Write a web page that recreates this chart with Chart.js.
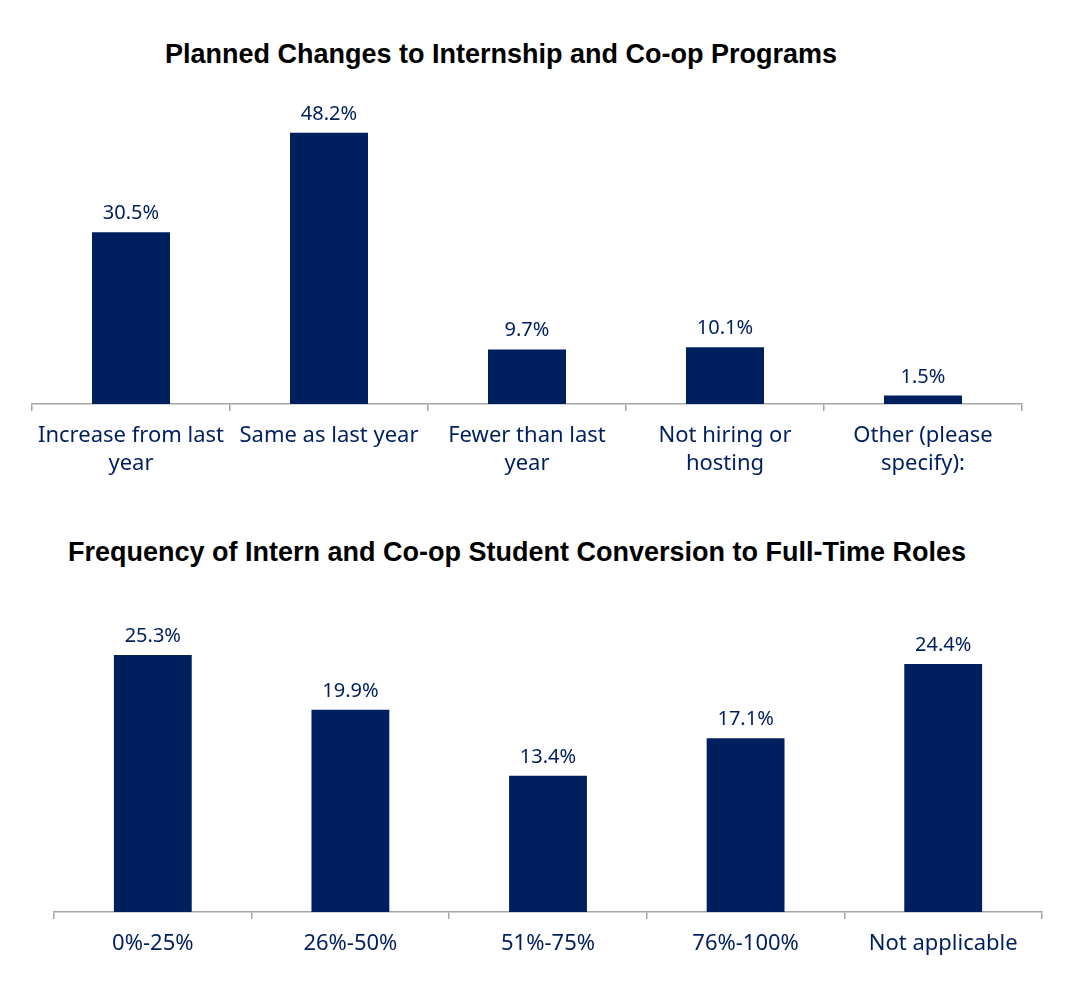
<!DOCTYPE html>
<html>
<head>
<meta charset="utf-8">
<script src="https://cdn.jsdelivr.net/npm/chart.js@4/dist/chart.umd.min.js"></script>
<style>
  body { margin: 0; background: #fff; width: 1073px; height: 994px; position: relative; overflow: hidden; }
  .title { position: absolute; font-family: "Liberation Sans", Arial, sans-serif; font-weight: bold; font-size: 27px; line-height: 31px; color: #000; text-align: center; white-space: nowrap; }
  .box { position: absolute; left: 0; width: 1073px; }
</style>
</head>
<body>
<div class="title" id="t1" style="left:0; width:1002px; top:39px;">Planned Changes to Internship and Co-op Programs</div>
<div class="title" id="t2" style="left:0; width:1034px; top:537px;">Frequency of Intern and Co-op Student Conversion to Full-Time Roles</div>
<div class="box" style="top:0; height:490px;"><canvas id="plans"></canvas></div>
<div class="box" style="top:500px; height:494px;"><canvas id="conversion"></canvas></div>
<script>
// chart data
var planLabels = [["Increase from last", "year"], "Same as last year", ["Fewer than last", "year"], ["Not hiring or", "hosting"], ["Other (please", "specify):"]];
var planValues = [30.5, 48.2, 9.7, 10.1, 1.5];

var convLabels = ["0%-25%", "26%-50%", "51%-75%", "76%-100%", "Not applicable"];
var convValues = [25.3, 19.9, 13.4, 17.1, 24.4];

var navy = "#001F5F";
var axisGrey = "#A6A6A6";

// draws the % value above each bar
var valueLabels = {
  id: "valueLabels",
  afterDatasetsDraw: function(chart) {
    var ctx = chart.ctx;
    var meta = chart.getDatasetMeta(0);
    ctx.save();
    ctx.font = "20px 'Noto Sans', sans-serif";
    ctx.fillStyle = navy;
    ctx.textAlign = "center";
    ctx.textBaseline = "alphabetic";
    meta.data.forEach(function(bar, i) {
      var v = chart.data.datasets[0].data[i];
      ctx.fillText(v.toFixed(1) + "%", bar.x, bar.y - 13);
    });
    ctx.restore();
  }
};

function makeChart(id, labels, values, yMax, pad, axisHeight, tickPad) {
  return new Chart(document.getElementById(id), {
    type: "bar",
    data: {
      labels: labels,
      datasets: [{ data: values, backgroundColor: navy, categoryPercentage: 1, barPercentage: 0.394 }]
    },
    options: {
      responsive: true,
      maintainAspectRatio: false,
      animation: false,
      layout: { padding: pad },
      plugins: { legend: { display: false }, tooltip: { enabled: false }, title: { display: false } },
      scales: {
        y: { display: false, min: 0, max: yMax },
        x: {
          grid: { display: true, drawOnChartArea: false, drawTicks: true, tickLength: 7, color: axisGrey, lineWidth: 1.5, offset: true },
          border: { display: true, color: axisGrey, width: 1.5 },
          ticks: { color: navy, font: { family: "'Noto Sans', sans-serif", size: 22, lineHeight: 1.3 }, padding: tickPad, maxRotation: 0, autoSkip: false },
          afterFit: function(scale) { scale.height = axisHeight; }
        }
      }
    },
    plugins: [valueLabels]
  });
}

makeChart("plans", planLabels, planValues, 54, { top: 100, left: 32, right: 51, bottom: 0 }, 86, 10);
makeChart("conversion", convLabels, convValues, 28.74, { top: 120, left: 54, right: 31, bottom: 0 }, 82, 10);
</script>
</body>
</html>
